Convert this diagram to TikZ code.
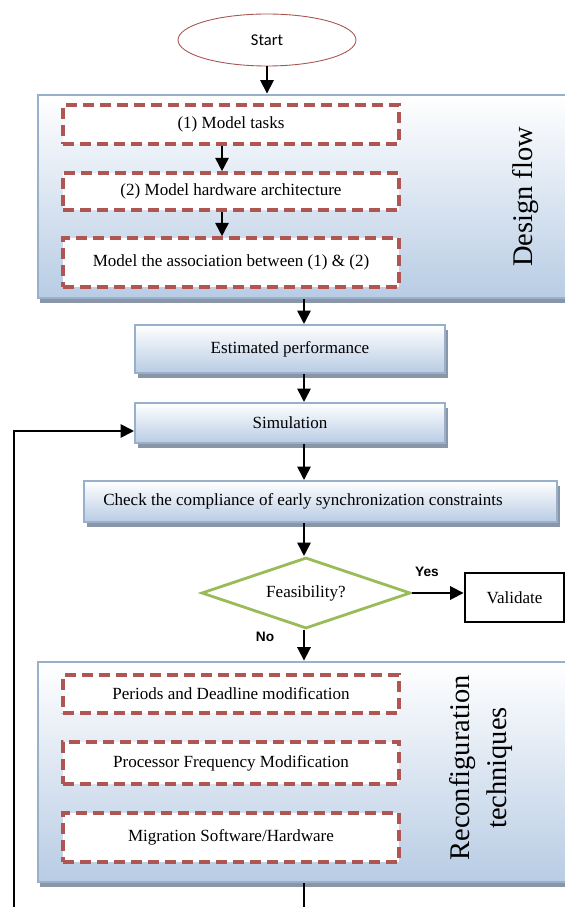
\documentclass[tikz,border=0pt]{standalone}
\usepackage{fontspec}
\setmainfont{Liberation Serif}
\newfontfamily\startfont{Carlito}
\newfontfamily\answerfont{Liberation Sans}
\usepackage{tikz}
\usetikzlibrary{positioning, arrows.meta, shapes.geometric, shadows}
\usepackage{xcolor}
\definecolor{boxblue}{RGB}{184,204,228}
\definecolor{boxedge}{RGB}{152,176,204}
\definecolor{shadowgray}{RGB}{138,150,166}
\definecolor{dashred}{RGB}{176,86,82}
\definecolor{diamondgreen}{RGB}{155,187,89}
\definecolor{startred}{RGB}{168,84,80}

\begin{document}
\begin{tikzpicture}
  \tikzset{
    panel/.style={
      draw=boxedge,
      line width=1.5pt,
      top color=white,
      bottom color=boxblue,
      minimum width=11.0cm,
      anchor=center,
      drop shadow={shadow xshift=0.04cm, shadow yshift=-0.1cm, fill=shadowgray, opacity=1}
    },
    stepbox/.style={
      draw=boxedge,
      line width=1pt,
      top color=white,
      bottom color=boxblue,
      anchor=center,
      font=\fontsize{9.7pt}{11pt}\selectfont,
      drop shadow={shadow xshift=0.06cm, shadow yshift=-0.1cm, fill=shadowgray, opacity=1}
    },
    task/.style={
      draw=dashred,
      line width=1.9pt,
      dash pattern=on 0.22cm off 0.12cm,
      fill=white,
      minimum width=6.72cm,
      anchor=center,
      font=\fontsize{9.7pt}{11pt}\selectfont
    },
    sidelabel/.style={
      rotate=90,
      align=center,
      font=\fontsize{16.2pt}{21.5pt}\selectfont
    },
    answer/.style={
      font=\answerfont\bfseries\fontsize{7.8pt}{9pt}\selectfont
    },
    flow/.style={
      line width=1.6pt,
      -{Triangle[length=0.27cm,width=0.26cm]}
    }
  }
  \clip (0,0) rectangle (11.3,-18.14);
  \coordinate (axis) at (6.08,0);

  % Start
  \node[ellipse, draw=startred, line width=0.5pt, fill=white,
        minimum width=3.56cm, minimum height=1.04cm,
        font=\startfont\fontsize{9.4pt}{10pt}\selectfont] at (5.34, -0.80) (start) {
      Start
  };

  % Design flow panel
  \node[panel, minimum height=4.06cm] at (6.26, -3.93) (design) {};
  \node[task, minimum height=0.78cm] at (4.62, -2.49) (tasks) {
      (1) Model tasks
  };
  \node[task, minimum height=0.74cm] at (4.62, -3.83) (hardware) {
      (2) Model hardware architecture
  };
  \node[task, minimum height=0.98cm] at (4.62, -5.25) (association) {
      Model the association between (1) \& (2)
  };
  \node[sidelabel] at (10.52, -3.94) (designlabel) {Design flow};

  % Middle steps
  \node[stepbox, minimum width=6.2cm, minimum height=0.96cm] at (5.80, -6.98) (estimated) {
      Estimated performance
  };
  \node[stepbox, minimum width=6.2cm, minimum height=0.80cm] at (5.80, -8.46) (simulation) {
      Simulation
  };
  \node[stepbox, minimum width=9.46cm, minimum height=0.82cm] at (6.41, -10.03) (check) {
      Check the compliance of early synchronization constraints\hspace{0.7cm}
  };

  % Decision
  \node[diamond, draw=diamondgreen, line width=1.6pt, fill=white, aspect=2.94,
        minimum width=4.18cm, minimum height=1.42cm, inner sep=0pt,
        font=\fontsize{9.7pt}{11pt}\selectfont] at (6.12, -11.86) (feasibility) {
      Feasibility?
  };
  \node[draw, line width=1.5pt, fill=white, minimum width=1.98cm, minimum height=0.98cm,
        font=\fontsize{9.7pt}{11pt}\selectfont] at (10.29, -11.95) (validate) {
      Validate
  };
  \node[answer] at (8.54, -11.44) (yes) {Yes};
  \node[answer] at (5.30, -12.74) (no) {No};

  % Reconfiguration panel
  \node[panel, minimum height=4.40cm] at (6.26, -15.44) (reconfig) {};
  \node[task, minimum height=0.76cm] at (4.62, -13.88) (periods) {
      Periods and Deadline modification
  };
  \node[task, minimum height=0.84cm] at (4.62, -15.26) (frequency) {
      Processor Frequency Modification
  };
  \node[task, minimum height=0.98cm] at (4.62, -16.75) (migration) {
      Migration Software/Hardware
  };
  \node[sidelabel] at (9.62, -15.36) (reconfiglabel) {Reconfiguration\\techniques};

  % Free ends at the bottom edge
  \coordinate (loopend) at (0.28, -18.14);
  \coordinate (tailend) at (6.08, -18.14);

  % Connectors
  \draw[flow] (start.south) -- (start.south |- design.north);
  \draw[flow] ([xshift=-0.18cm]tasks.south) -- ([xshift=-0.18cm]hardware.north);
  \draw[flow] ([xshift=-0.18cm]hardware.south) -- ([xshift=-0.18cm]association.north);
  \draw[flow] (design.south -| axis) -- (estimated.north -| axis);
  \draw[flow] (estimated.south -| axis) -- (simulation.north -| axis);
  \draw[flow] (simulation.south -| axis) -- (check.north -| axis);
  \draw[flow] (check.south -| axis) -- (feasibility.north -| axis);
  \draw[flow] (feasibility.east) -- (feasibility.east -| validate.west);
  \draw[flow] (feasibility.south -| axis) -- (reconfig.north -| axis);
  \draw[line width=0.9pt] (reconfig.south -| axis) -- (tailend);
  \draw[flow] (loopend) |- ([yshift=-0.16cm]simulation.west);
\end{tikzpicture}
\end{document}
